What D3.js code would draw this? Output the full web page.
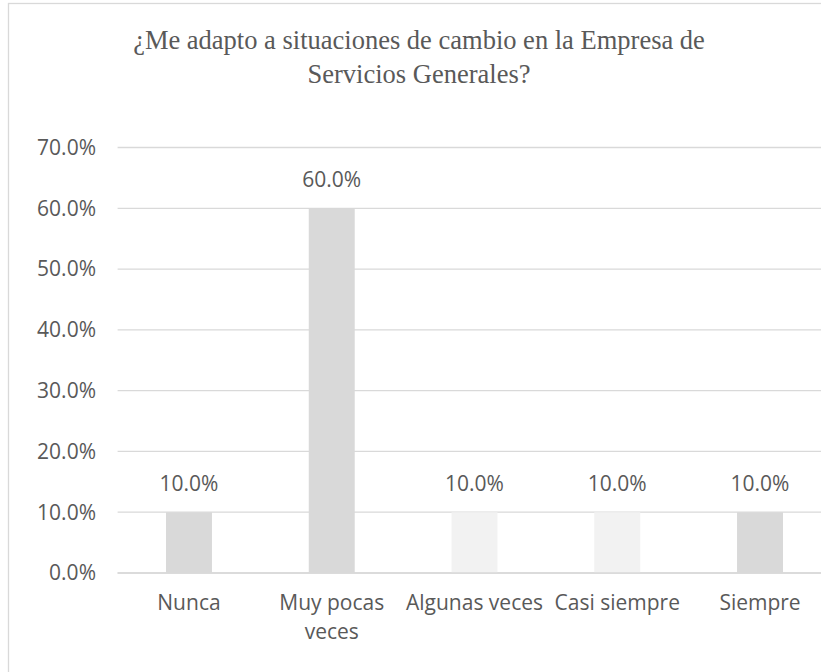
<!DOCTYPE html>
<html>
<head>
<meta charset="utf-8">
<script src="https://cdn.jsdelivr.net/npm/d3@7"></script>
<style>
  body { margin: 0; background: #fff; }
  svg { display: block; }
</style>
</head>
<body>
<div id="vis"></div>
<script>
var titleLines = ['¿Me adapto a situaciones de cambio en la Empresa de', 'Servicios Generales?'];
var categories = ['Nunca', 'Muy pocas veces', 'Algunas veces', 'Casi siempre', 'Siempre'];
var tickLabels = [['Nunca'], ['Muy pocas', 'veces'], ['Algunas veces'], ['Casi siempre'], ['Siempre']];
var values = [0.10, 0.60, 0.10, 0.10, 0.10];
var yTicks = [0, 0.1, 0.2, 0.3, 0.4, 0.5, 0.6, 0.7];

var width = 821, height = 672;
var margin = {top: 147.5, right: -10.4, bottom: 99, left: 117.6};

var svg = d3.select('#vis').append('svg')
    .attr('width', width)
    .attr('height', height);

// chart border (right and bottom edges fall outside the picture)
svg.append('rect')
    .attr('x', 8.5).attr('y', 3.5)
    .attr('width', 830).attr('height', 700)
    .attr('fill', '#fff')
    .attr('stroke', '#d9d9d9')
    .attr('stroke-width', 1.3);

svg.append('text')
    .attr('text-anchor', 'middle')
    .attr('fill', '#595959')
    .style('font-family', '"Liberation Serif", "Times New Roman", serif')
    .style('font-size', '26.5px')
    .selectAll('tspan')
    .data(titleLines)
    .enter()
    .append('tspan')
        .attr('x', 419)
        .attr('y', (d, i) => 49 + i * 34)
        .text(d => d);

var x = d3.scaleBand()
    .domain(categories)
    .range([margin.left, width - margin.right]);

var y = d3.scaleLinear()
    .domain([0, 0.7])
    .range([height - margin.bottom, margin.top]);

var fmt = d3.format('.1%');
var barColor = d3.scaleOrdinal()
    .domain(categories)
    .range(['#d9d9d9', '#d9d9d9', '#f2f2f2', '#f2f2f2', '#d9d9d9']);

var font = '"Open Sans", "Noto Sans", sans-serif';
var fs = '21px';

// gridlines
svg.append('g')
    .selectAll('line')
    .data(yTicks)
    .enter()
    .append('line')
        .attr('x1', margin.left)
        .attr('x2', width - margin.right)
        .attr('y1', d => y(d))
        .attr('y2', d => y(d))
        .attr('stroke', '#d9d9d9')
        .attr('stroke-width', 1.3);

// y axis labels
svg.append('g')
    .selectAll('text')
    .data(yTicks)
    .enter()
    .append('text')
        .attr('x', 96)
        .attr('y', d => y(d))
        .attr('dy', '0.35em')
        .attr('text-anchor', 'end')
        .attr('fill', '#595959')
        .style('font-family', font)
        .style('font-size', fs)
        .text(d => fmt(d));

var barW = x.bandwidth() * 0.322;

svg.append('g')
    .selectAll('rect')
    .data(values)
    .enter()
    .append('rect')
        .attr('x', (d, i) => x(categories[i]) + x.bandwidth() / 2 - barW / 2)
        .attr('y', d => y(d))
        .attr('width', barW)
        .attr('height', d => y(0) - y(d))
        .attr('fill', (d, i) => barColor(categories[i]));

// redraw baseline over bars
svg.append('line')
    .attr('x1', margin.left)
    .attr('x2', width - margin.right)
    .attr('y1', y(0))
    .attr('y2', y(0))
    .attr('stroke', '#d9d9d9')
    .attr('stroke-width', 1.3);

// data labels
svg.append('g')
    .selectAll('text')
    .data(values)
    .enter()
    .append('text')
        .attr('x', (d, i) => x(categories[i]) + x.bandwidth() / 2)
        .attr('y', d => y(d) - 21.5)
        .attr('text-anchor', 'middle')
        .attr('fill', '#595959')
        .style('font-family', font)
        .style('font-size', fs)
        .text(d => fmt(d));

// category labels
svg.append('g')
    .selectAll('text')
    .data(categories)
    .enter()
    .append('text')
        .attr('text-anchor', 'middle')
        .attr('fill', '#595959')
        .style('font-family', font)
        .style('font-size', fs)
        .selectAll('tspan')
        .data((d, i) => tickLabels[i].map(t => ({t: t, c: d})))
        .enter()
        .append('tspan')
            .attr('x', d => x(d.c) + x.bandwidth() / 2)
            .attr('y', (d, j) => 610 + j * 29)
            .text(d => d.t);
</script>
</body>
</html>
